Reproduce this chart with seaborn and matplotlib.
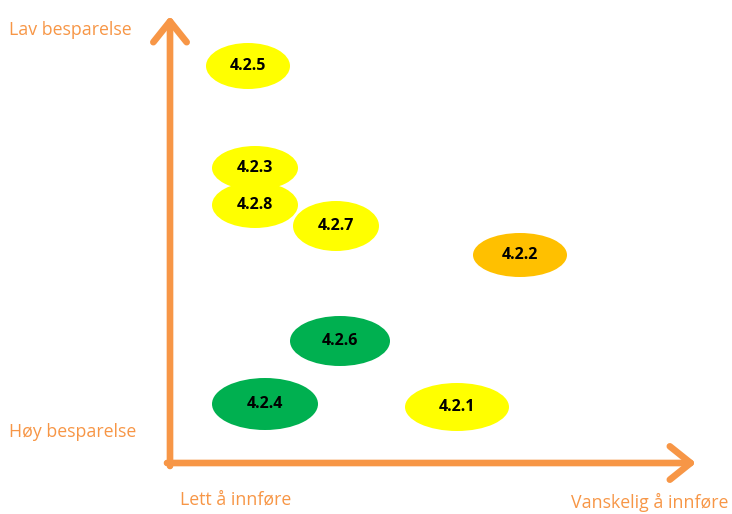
import matplotlib
matplotlib.use('Agg')
import matplotlib.pyplot as plt
from matplotlib.patches import Ellipse
import seaborn as sns

# 数据: 措施编号, 位置 (图中像素坐标), 椭圆尺寸, 颜色
labels = ['4.2.5', '4.2.3', '4.2.8', '4.2.7', '4.2.2', '4.2.6', '4.2.4', '4.2.1']
x_pos = [248, 255, 255, 336, 520, 340, 265, 457]
y_pos = [66, 168, 205, 226, 255, 341, 404, 407]
widths = [84, 86, 86, 86, 94, 100, 106, 104]
heights = [46, 44, 46, 50, 44, 50, 52, 48]
colors = ['#FFFF00', '#FFFF00', '#FFFF00', '#FFFF00', '#FFC000', '#00B050', '#00B050', '#FFFF00']

axis_labels_y = ['Lav besparelse', 'Høy besparelse']
axis_labels_x = ['Lett å innføre', 'Vanskelig å innføre']

ORANGE = '#F79646'

sns.set_theme(style='white')
plt.rcParams['font.family'] = ['Open Sans', 'DejaVu Sans']

fig = plt.figure(figsize=(7.32, 5.14), dpi=100)
ax = fig.add_axes([0, 0, 1, 1])
ax.set_xlim(0, 732)
ax.set_ylim(514, 0)
ax.axis('off')

# 坐标轴箭头
arrow_kw = dict(arrowstyle='->,head_length=0.75,head_width=0.6', color=ORANGE,
                lw=4.8, mutation_scale=20, capstyle='round', joinstyle='round',
                shrinkA=0, shrinkB=0)
ax.annotate('', xy=(170, 16), xytext=(170, 466), arrowprops=arrow_kw)
ax.annotate('', xy=(696, 463), xytext=(167, 463), arrowprops=arrow_kw)

# 椭圆
for lab, x, y, w, h, c in zip(labels, x_pos, y_pos, widths, heights, colors):
    ax.add_patch(Ellipse((x, y), w, h, facecolor=c, edgecolor='none', zorder=2))
    ax.text(x, y, lab, ha='center', va='center', fontsize=11.5, fontweight='bold',
            color='black', zorder=3)

# 轴说明文字
ax.text(9, 30, axis_labels_y[0], color=ORANGE, fontsize=12.8, ha='left', va='center')
ax.text(9, 432, axis_labels_y[1], color=ORANGE, fontsize=12.8, ha='left', va='center')
ax.text(180, 500, axis_labels_x[0], color=ORANGE, fontsize=12.8, ha='left', va='center')
ax.text(571, 502, axis_labels_x[1], color=ORANGE, fontsize=12.8, ha='left', va='center')

fig.savefig('out.png', dpi=100)
